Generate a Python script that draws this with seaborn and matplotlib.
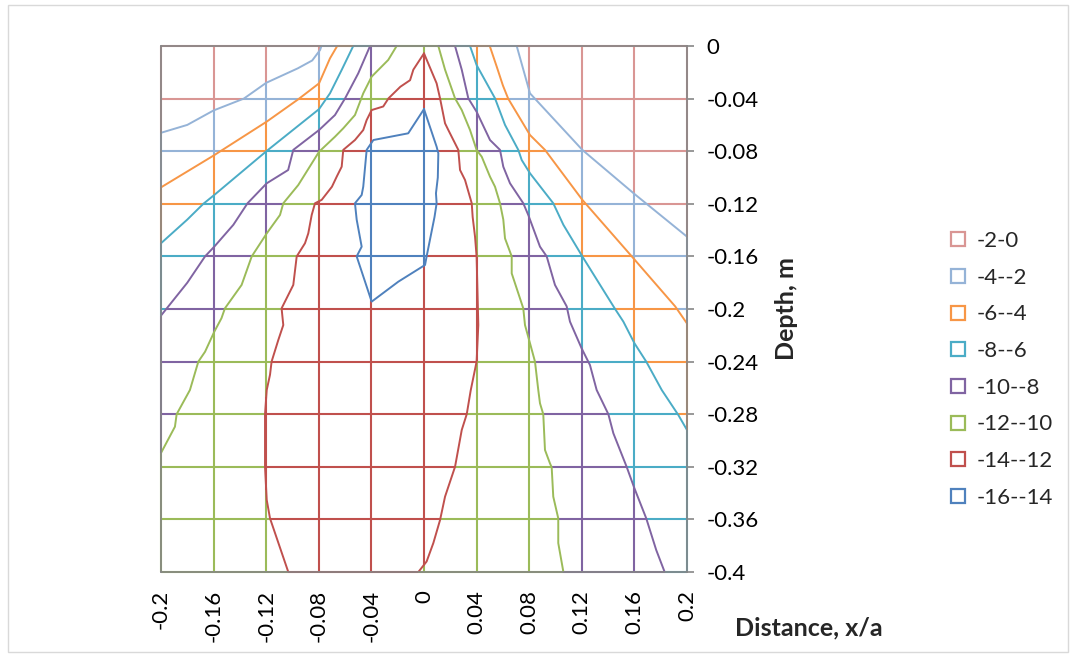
import numpy as np
import pandas as pd
import matplotlib
matplotlib.use("Agg")
import matplotlib.pyplot as plt
import seaborn as sns
from matplotlib.path import Path
from matplotlib.lines import Line2D
from matplotlib.patches import Rectangle

# ---------------- data ----------------
x_ticks = [-0.2, -0.16, -0.12, -0.08, -0.04, 0.0, 0.04, 0.08, 0.12, 0.16, 0.2]
x_tick_labels = ["-0.2", "-0.16", "-0.12", "-0.08", "-0.04", "0", "0.04", "0.08", "0.12", "0.16", "0.2"]
y_ticks = [0.0, -0.04, -0.08, -0.12, -0.16, -0.2, -0.24, -0.28, -0.32, -0.36, -0.4]
y_tick_labels = ["0", "-0.04", "-0.08", "-0.12", "-0.16", "-0.2", "-0.24", "-0.28", "-0.32", "-0.36", "-0.4"]

band_labels = ["-2-0", "-4--2", "-6--4", "-8--6", "-10--8", "-12--10", "-14--12", "-16--14"]
band_colors = ["#D99694", "#95B3D7", "#F79646", "#4BACC6", "#8064A2", "#9BBB59", "#C0504D", "#4F81BD"]

# contour lines as (distance x/a, depth m), each branch ordered top -> bottom
c2_left = [(-0.078, 0.0), (-0.079, -0.003), (-0.085, -0.011), (-0.096, -0.017), (-0.120, -0.028),
           (-0.137, -0.040), (-0.160, -0.049), (-0.180, -0.060), (-0.2, -0.066)]
c2_right = [(0.0705, 0.0), (0.0806, -0.036), (0.1204, -0.079), (0.160, -0.1125), (0.2, -0.145)]

c4_left = [(-0.066, 0.0), (-0.0715, -0.0094), (-0.0798, -0.0284), (-0.0956, -0.0405),
           (-0.1196, -0.0575), (-0.1595, -0.083), (-0.2, -0.1075)]
c4_right = [(0.050, 0.0), (0.0553, -0.0157), (0.060, -0.030), (0.064, -0.040), (0.0806, -0.0677),
            (0.092, -0.079), (0.1204, -0.117), (0.158, -0.160), (0.191, -0.198), (0.2, -0.211)]

c6_left = [(-0.0538, 0.0), (-0.0625, -0.018), (-0.0715, -0.036), (-0.0798, -0.048), (-0.1196, -0.0798),
           (-0.1595, -0.1133), (-0.1678, -0.120), (-0.180, -0.132), (-0.2, -0.150)]
c6_right = [(0.035, 0.0), (0.040, -0.0145), (0.0477, -0.0284), (0.054, -0.0398), (0.0616, -0.060),
            (0.0717, -0.079), (0.0743, -0.0867), (0.0806, -0.0968), (0.0983, -0.1196), (0.106, -0.136),
            (0.1204, -0.160), (0.145, -0.1995), (0.1516, -0.2096), (0.160, -0.226), (0.169, -0.240),
            (0.1808, -0.2616), (0.1934, -0.2806), (0.2, -0.292)]

c8_left = [(-0.041, 0.0), (-0.050, -0.0208), (-0.060, -0.0398), (-0.0677, -0.0525), (-0.0798, -0.0639),
           (-0.0994, -0.079), (-0.1033, -0.0943), (-0.1196, -0.1044), (-0.1342, -0.1196), (-0.145, -0.136),
           (-0.1595, -0.1526), (-0.1665, -0.160), (-0.180, -0.180), (-0.2, -0.205)]
c8_right = [(0.0236, 0.0), (0.0287, -0.018), (0.0337, -0.0398), (0.040, -0.050), (0.0502, -0.0715),
            (0.0578, -0.079), (0.0603, -0.0918), (0.0654, -0.1044), (0.0755, -0.1196), (0.0793, -0.1285),
            (0.0882, -0.1526), (0.0933, -0.160), (0.0996, -0.1817), (0.1085, -0.198), (0.111, -0.2096),
            (0.1199, -0.230), (0.1262, -0.2426), (0.1313, -0.2616), (0.1402, -0.280), (0.144, -0.2945),
            (0.1541, -0.320), (0.160, -0.3363), (0.169, -0.3592), (0.1766, -0.3833), (0.183, -0.4)]

c10_left = [(-0.0208, 0.0), (-0.0272, -0.0106), (-0.0398, -0.0233), (-0.0462, -0.036), (-0.0525, -0.0525),
            (-0.0614, -0.0626), (-0.0677, -0.069), (-0.0798, -0.0804), (-0.0956, -0.1057), (-0.107, -0.1196),
            (-0.1095, -0.1285), (-0.1196, -0.1425), (-0.131, -0.160), (-0.1387, -0.1817), (-0.1514, -0.1995),
            (-0.154, -0.207), (-0.1595, -0.2173), (-0.1665, -0.2325), (-0.1716, -0.240), (-0.178, -0.2616),
            (-0.1881, -0.280), (-0.1894, -0.2895), (-0.2, -0.3095)]
c10_right = [(0.0109, 0.0), (0.016, -0.018), (0.0236, -0.0398), (0.0287, -0.0487), (0.035, -0.0639),
             (0.040, -0.079), (0.0439, -0.0842), (0.0502, -0.0994), (0.054, -0.107), (0.0578, -0.1196),
             (0.0603, -0.132), (0.0616, -0.1463), (0.0667, -0.160), (0.0667, -0.1729), (0.0755, -0.1995),
             (0.0768, -0.2122), (0.0806, -0.226), (0.0844, -0.240), (0.0869, -0.2616), (0.0882, -0.2717),
             (0.0907, -0.280), (0.092, -0.3072), (0.0958, -0.3174), (0.0971, -0.3204), (0.0983, -0.3427),
             (0.1021, -0.3592), (0.1021, -0.378), (0.106, -0.4)]

c12_left = [(0.0, -0.0056), (-0.0081, -0.018), (-0.0106, -0.026), (-0.018, -0.031), (-0.027, -0.0398),
            (-0.031, -0.046), (-0.0398, -0.0487), (-0.0436, -0.0563), (-0.0462, -0.0639), (-0.0525, -0.0715),
            (-0.0614, -0.079), (-0.0626, -0.0918), (-0.0664, -0.0994), (-0.070, -0.107), (-0.0778, -0.117),
            (-0.0829, -0.1196), (-0.0854, -0.1285), (-0.088, -0.1425), (-0.0905, -0.150), (-0.0968, -0.160),
            (-0.0994, -0.1817), (-0.1083, -0.1995), (-0.107, -0.2122), (-0.1108, -0.2236), (-0.1159, -0.240),
            (-0.1171, -0.250), (-0.1196, -0.2616), (-0.1209, -0.280), (-0.1209, -0.320), (-0.1196, -0.3452),
            (-0.1171, -0.3592), (-0.1032, -0.4)]
c12_right = [(0.0, -0.0056), (0.0096, -0.0284), (0.0122, -0.0398), (0.016, -0.0588), (0.0185, -0.0639),
             (0.0261, -0.079), (0.0274, -0.0943), (0.0312, -0.1019), (0.0363, -0.1196), (0.037, -0.130),
             (0.0388, -0.145), (0.040, -0.160), (0.0413, -0.2122), (0.040, -0.240), (0.0355, -0.262),
             (0.0325, -0.280), (0.0287, -0.292), (0.0236, -0.320), (0.016, -0.3427), (0.0122, -0.3605),
             (0.0071, -0.378), (0.002, -0.392), (-0.0043, -0.4)]

c14_loop = [(0.0, -0.048), (-0.012, -0.0664), (-0.0385, -0.0715), (-0.0436, -0.079), (-0.0462, -0.107),
            (-0.0474, -0.1133), (-0.0525, -0.1196), (-0.0512, -0.132), (-0.0474, -0.1526), (-0.0512, -0.160),
            (-0.0398, -0.1944), (-0.0195, -0.1792), (0.0008, -0.1665), (0.002, -0.160), (0.008, -0.130),
            (0.0096, -0.1196), (0.0091, -0.112), (0.0105, -0.100), (0.0109, -0.0816), (0.0096, -0.0766),
            (0.0, -0.048)]

open_contours = [(c2_left, c2_right), (c4_left, c4_right), (c6_left, c6_right), (c8_left, c8_right),
                 (c10_left, c10_right), (c12_left, c12_right)]

# ---------------- setup ----------------
sns.set_theme(style="white")
plt.rcParams["font.family"] = ["Lato", "DejaVu Sans"]
FS = 16
FS_LAB = 18
GRAY = "#868686"

W, H = 1076, 658
fig = plt.figure(figsize=(W / 100, H / 100), dpi=100)
fig.patch.set_facecolor("white")
ax = fig.add_axes([161 / W, 1 - 572 / H, 526 / W, 526 / H])
ax.set_facecolor("white")
ax.set_xlim(-0.2, 0.2)
ax.set_ylim(-0.4, 0.0)


def ext(p):
    x, y = p
    if abs(y) < 1e-9:
        return (x, 0.1)
    if abs(y + 0.4) < 1e-9:
        return (x, -0.5)
    if abs(x + 0.2) < 1e-9:
        return (-0.3, y)
    if abs(x - 0.2) < 1e-9:
        return (0.3, y)
    return (x, y)


regions = []
for L, R in open_contours:
    s = ext(L[-1])
    e = ext(R[-1])
    pts = [s] + L[::-1] + [ext(L[0]), ext(R[0])] + R + [e, (e[0], -0.5), (s[0], -0.5), s]
    regions.append(Path(pts))
regions.append(Path(c14_loop))


def band_of(xs, ys):
    pts = np.column_stack([xs, ys])
    b = np.zeros(len(xs), dtype=int)
    for p in regions:
        b += p.contains_points(pts).astype(int)
    return b


def draw_colored_line(xs, ys):
    b = band_of(xs, ys)
    idx = np.r_[0, np.nonzero(np.diff(b))[0] + 1, len(b)]
    for i0, i1 in zip(idx[:-1], idx[1:]):
        xa = xs[i0] if i0 == 0 else 0.5 * (xs[i0] + xs[i0 - 1])
        ya = ys[i0] if i0 == 0 else 0.5 * (ys[i0] + ys[i0 - 1])
        xb = xs[i1 - 1] if i1 == len(b) else 0.5 * (xs[i1] + xs[i1 - 1])
        yb = ys[i1 - 1] if i1 == len(b) else 0.5 * (ys[i1] + ys[i1 - 1])
        ax.plot([xa, xb], [ya, yb], color=band_colors[b[i0]], lw=1.5,
                solid_capstyle="butt", zorder=1, clip_on=False)


n = 4001
for v in x_ticks:
    draw_colored_line(np.full(n, v), np.linspace(0.0, -0.4, n))
for v in y_ticks:
    draw_colored_line(np.linspace(-0.2, 0.2, n), np.full(n, v))

# contour lines (coloured with the band below each level)
for k, (L, R) in enumerate(open_contours):
    col = band_colors[k + 1]
    for br in (L, R):
        df = pd.DataFrame(br, columns=["x", "depth"])
        sns.lineplot(data=df, x="x", y="depth", sort=False, estimator=None,
                     color=col, lw=1.4, ax=ax, zorder=2)
df14 = pd.DataFrame(c14_loop, columns=["x", "depth"])
sns.lineplot(data=df14, x="x", y="depth", sort=False, estimator=None,
             color=band_colors[7], lw=1.4, ax=ax, zorder=2)

# axes styling
for sp in ax.spines.values():
    sp.set_color(GRAY)
    sp.set_linewidth(1.2)
    sp.set_zorder(3)
ax.set_xticks(x_ticks)
ax.set_xticklabels(x_tick_labels, rotation=90, va="top", ha="center")
ax.set_yticks(y_ticks)
ax.set_yticklabels(y_tick_labels)
ax.yaxis.tick_right()
ax.tick_params(axis="both", direction="out", length=5, width=1.2, color=GRAY,
               labelsize=FS, labelcolor="black")
ax.tick_params(axis="x", pad=8)
ax.tick_params(axis="y", pad=9)
ax.set_xlabel("")
ax.set_ylabel("")

fig.text(786 / W, 1 - 309 / H, "Depth, m", rotation=90, ha="center", va="center",
         fontsize=FS_LAB, fontweight="bold")
fig.text(809 / W, 1 - 628 / H, "Distance, x/a", ha="center", va="center",
         fontsize=FS_LAB, fontweight="bold")

handles = [Line2D([], [], linestyle="none", marker="s", markersize=10.5, markerfacecolor="white",
                  markeredgecolor=c, markeredgewidth=1.6) for c in band_colors]
fig.legend(handles, band_labels, loc="upper left", bbox_to_anchor=(947 / W, 1 - 231 / H),
           frameon=False, handlelength=1.0, handletextpad=0.35, borderpad=0, borderaxespad=0,
           labelspacing=0.75, fontsize=FS)

fig.add_artist(Rectangle((8 / W, 1 - 652 / H), 1060 / W, 647 / H, transform=fig.transFigure,
                         fill=False, edgecolor="#D9D9D9", lw=1.0))

fig.savefig("out.png", dpi=100)
